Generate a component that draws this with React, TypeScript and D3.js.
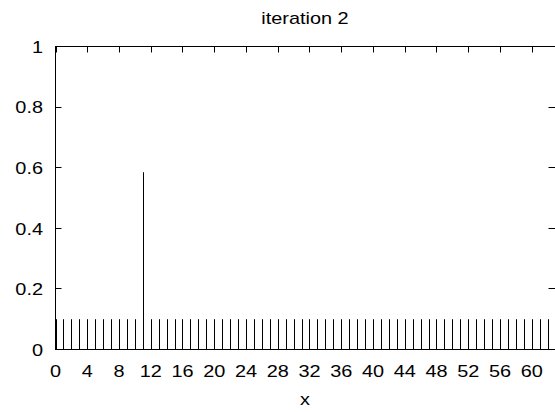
import React from 'react';
import * as d3 from 'd3';

// data: impulses at x = 0..63
const xValues = [
  0, 1, 2, 3, 4, 5, 6, 7, 8, 9, 10, 11, 12, 13, 14, 15,
  16, 17, 18, 19, 20, 21, 22, 23, 24, 25, 26, 27, 28, 29, 30, 31,
  32, 33, 34, 35, 36, 37, 38, 39, 40, 41, 42, 43, 44, 45, 46, 47,
  48, 49, 50, 51, 52, 53, 54, 55, 56, 57, 58, 59, 60, 61, 62, 63,
];
const yValues = [
  0.1, 0.1, 0.1, 0.1, 0.1, 0.1, 0.1, 0.1, 0.1, 0.1, 0.1, 0.585, 0.1, 0.1, 0.1, 0.1,
  0.1, 0.1, 0.1, 0.1, 0.1, 0.1, 0.1, 0.1, 0.1, 0.1, 0.1, 0.1, 0.1, 0.1, 0.1, 0.1,
  0.1, 0.1, 0.1, 0.1, 0.1, 0.1, 0.1, 0.1, 0.1, 0.1, 0.1, 0.1, 0.1, 0.1, 0.1, 0.1,
  0.1, 0.1, 0.1, 0.1, 0.1, 0.1, 0.1, 0.1, 0.1, 0.1, 0.1, 0.1, 0.1, 0.1, 0.1, 0.1,
];
const xTicks = [0, 4, 8, 12, 16, 20, 24, 28, 32, 36, 40, 44, 48, 52, 56, 60];
const yTicks = [0, 0.2, 0.4, 0.6, 0.8, 1];
const yTickLabels = ['0', '0.2', '0.4', '0.6', '0.8', '1'];
const title = 'iteration 2';
const xLabel = 'x';

const width = 555;
const height = 412;
const left = 55.5;
const right = 555.5;
const top = 46.5;
const bottom = 349.5;
const tickLen = 6;
const font = '"Liberation Sans", Arial, sans-serif';
const stretch = 1.17;

const Label: React.FC<{ x: number; y: number; anchor: string; size: number; children: React.ReactNode }> = ({ x, y, anchor, size, children }) => (
  <text
    transform={`translate(${x},${y}) scale(${stretch},1)`}
    textAnchor={anchor}
    fontFamily={font}
    fontSize={size}
    fill="#000"
  >
    {children}
  </text>
);

const App: React.FC = () => {
  const x = d3.scaleLinear().domain([0, 63]).range([left, right]);
  const y = d3.scaleLinear().domain([0, 1]).range([bottom, top]);

  return (
    <svg width={width} height={height} style={{ position: 'absolute', left: 0, top: 0, background: '#fff' }}>
      <rect x={0} y={0} width={width} height={height} fill="#fff" />

      {/* impulses */}
      <g stroke="#000" strokeWidth={1}>
        {xValues.map((xv, i) => (
          <line
            key={xv}
            x1={Math.round(x(xv)) + 0.5}
            x2={Math.round(x(xv)) + 0.5}
            y1={y(0)}
            y2={y(yValues[i])}
          />
        ))}
      </g>

      {/* border */}
      <rect x={left} y={top} width={right - left} height={bottom - top} fill="none" stroke="#000" strokeWidth={1} />

      {/* x ticks, bottom and mirrored on top */}
      <g stroke="#000" strokeWidth={1}>
        {xTicks.map((t) => {
          const px = Math.round(x(t)) + 0.5;
          return (
            <g key={t}>
              <line x1={px} x2={px} y1={bottom} y2={bottom - tickLen} />
              <line x1={px} x2={px} y1={top} y2={top + tickLen} />
            </g>
          );
        })}
        {yTicks.map((t) => {
          const py = Math.round(y(t) - 0.5) + 0.5;
          return (
            <g key={t}>
              <line x1={left} x2={left + tickLen} y1={py} y2={py} />
              <line x1={right - tickLen - 1} x2={right} y1={py} y2={py} />
            </g>
          );
        })}
      </g>

      {xTicks.map((t) => (
        <Label key={t} x={x(t)} y={376.5} anchor="middle" size={17}>
          {String(t)}
        </Label>
      ))}
      {yTicks.map((t, i) => (
        <Label key={t} x={43} y={y(t) + 6.3} anchor="end" size={17}>
          {yTickLabels[i]}
        </Label>
      ))}

      <Label x={305} y={24} anchor="middle" size={17}>
        {title}
      </Label>
      <Label x={305} y={405} anchor="middle" size={17}>
        {xLabel}
      </Label>
    </svg>
  );
};

export default App;
